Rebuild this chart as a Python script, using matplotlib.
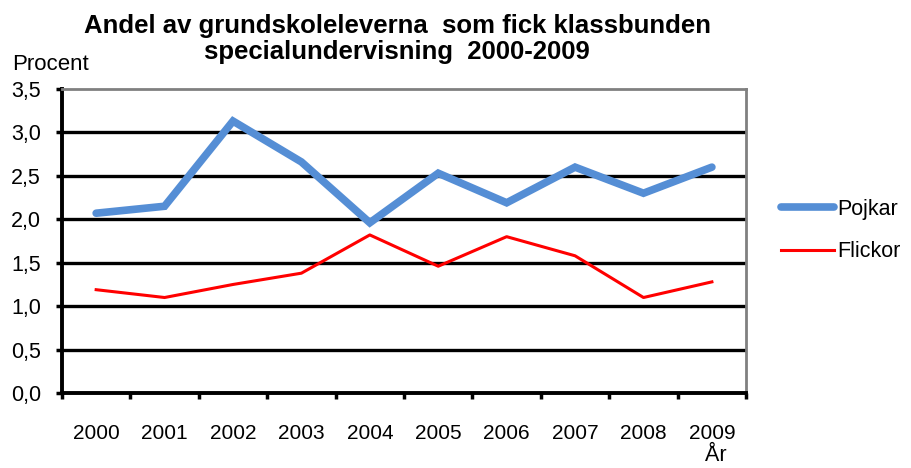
import numpy as np
import matplotlib.pyplot as plt

plt.rcParams['font.family'] = ['Liberation Sans', 'DejaVu Sans']

years = ['2000', '2001', '2002', '2003', '2004', '2005', '2006', '2007', '2008', '2009']
pojkar = [2.07, 2.15, 3.13, 2.66, 1.96, 2.53, 2.19, 2.60, 2.30, 2.60]
flickor = [1.19, 1.10, 1.25, 1.38, 1.82, 1.46, 1.80, 1.58, 1.10, 1.28]
yticks = [0.0, 0.5, 1.0, 1.5, 2.0, 2.5, 3.0, 3.5]

fig = plt.figure(figsize=(9.11, 4.68), dpi=100)
ax = fig.add_axes([0.068, 0.160, 0.751, 0.650])

x = np.arange(len(years))
ax.plot(x, pojkar, color='#558ED5', lw=5.5, solid_capstyle='round', solid_joinstyle='miter', label='Pojkar', zorder=3)
ax.plot(x, flickor, color='red', lw=2.2, label='Flickor', zorder=3)

ax.set_xlim(-0.5, len(years) - 0.5)
ax.set_ylim(0, 3.5)
ax.set_yticks(yticks)
ax.set_yticklabels([f'{v:.1f}'.replace('.', ',') for v in yticks], fontsize=15.5)
ax.set_xticks(x)
ax.set_xticklabels(years, fontsize=15)
ax.set_xticks(np.arange(-0.5, len(years)), minor=True)
ax.tick_params(axis='x', which='major', length=0, pad=22)
ax.tick_params(axis='x', which='minor', length=4, width=2.5, direction='out')
ax.tick_params(axis='y', length=4, width=2.5, pad=11)

for v in yticks[1:-1]:
    ax.axhline(v, color='black', lw=2.4, zorder=1)

for s in ['left', 'bottom']:
    ax.spines[s].set_linewidth(2.8)
    ax.spines[s].set_color('black')
for s in ['top', 'right']:
    ax.spines[s].set_linewidth(2)
    ax.spines[s].set_color('#808080')

fig.text(0.436, 0.97, 'Andel av grundskoleleverna  som fick klassbunden\nspecialundervisning  2000-2009',
         ha='center', va='top', fontsize=18.5, fontweight='bold', linespacing=1.1)
fig.text(0.013, 0.84, 'Procent', fontsize=16, ha='left', va='bottom')
fig.text(0.786, 0.004, 'År', fontsize=15.5, ha='center', va='bottom')

leg = ax.legend(loc='center left', bbox_to_anchor=(1.022, 0.535), frameon=False, fontsize=15.5,
                handlelength=2.5, handletextpad=0.15, labelspacing=1.0)

plt.savefig('out.png', dpi=100)
